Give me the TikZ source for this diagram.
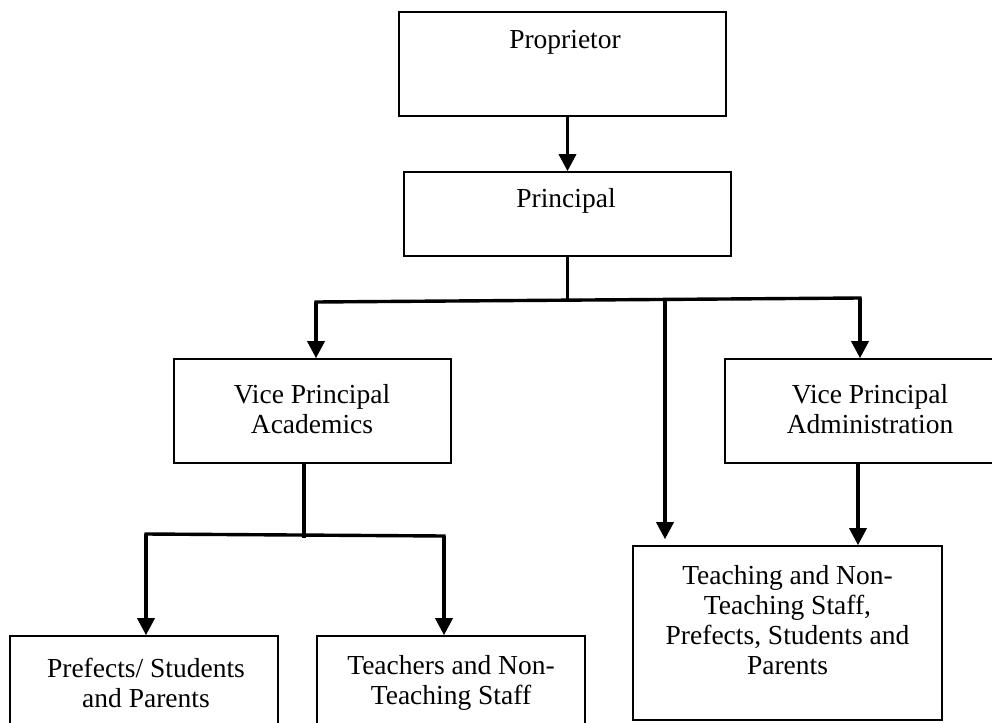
\documentclass[tikz,border=0pt]{standalone}
\usepackage{fontspec}
\setmainfont{Liberation Serif}
\usetikzlibrary{arrows.meta,calc}
\begin{document}
\begin{tikzpicture}[x=1pt,y=-1pt,
  box/.style={draw, line width=1.6pt, inner sep=0pt},
  txt/.style={align=center, inner sep=0pt, font=\fontsize{27.5}{30}\selectfont},
  conn/.style={line width=3.4pt, line cap=rect},
  arr/.style={line width=3.4pt, -{Triangle[length=17pt,width=17pt]}}]
\useasboundingbox (0,0) rectangle (992,722);
\clip (0,0) rectangle (992,722);
% boxes
\node[box, minimum width=327pt, minimum height=104pt] (prop) at (562.5,64) {};
\node[box, minimum width=327pt, minimum height=84pt] (princ) at (567.5,214) {};
\node[box, minimum width=277pt, minimum height=104pt] (vpa) at (312.5,411) {};
\node[box, minimum width=284pt, minimum height=104pt] (vpad) at (867,411) {};
\node[box, minimum width=268pt, minimum height=120pt] (pref) at (144,696) {};
\node[box, minimum width=268pt, minimum height=120pt] (teach) at (451,696) {};
\node[box, minimum width=309pt, minimum height=174pt] (staff) at (787.5,633) {};
% texts
\node[txt] (tprop) at (565,42) {Proprietor};
\node[txt] (tprinc) at (566,201) {Principal};
\node[txt] (tvpa) at (312,409) {Vice Principal\\Academics};
\node[txt] (tvpad) at (870,409) {Vice Principal\\Administration};
\node[txt] (tpref) at (146,683) {Prefects/ Students\\and Parents};
\node[txt] (tteach) at (451,683) {Teachers and Non-\\Teaching Staff};
\node[txt] (tstaff) at (787.5,620) {Teaching and Non-\\Teaching Staff,\\Prefects, Students and\\Parents};
% connectors
\draw[arr] (princ.north |- prop.south) -- (princ.north);
\coordinate (b1L) at (316,302);
\coordinate (b1R) at (860,298);
\coordinate (b1C) at (665,299);
\coordinate (b1P) at (567.5,300);
\draw[conn] (princ.south) -- (b1P);
\draw[conn] (b1L) -- (b1R);
\draw[arr] (b1L) -- (b1L |- vpa.north);
\draw[arr] (b1R) -- (b1R |- vpad.north);
\draw[arr] (b1C) -- ($(b1C |- staff.north)+(0,-6)$);
\coordinate (ra) at (858,0);
\draw[arr] (ra |- vpad.south) -- (ra |- staff.north);
\coordinate (b2M) at (304,536);
\coordinate (b2L) at (146,534);
\coordinate (b2R) at (444,536);
\draw[conn] (b2M |- vpa.south) -- (b2M);
\draw[conn] (b2L) -- (b2R);
\draw[arr] (b2L) -- (b2L |- pref.north);
\draw[arr] (b2R) -- (b2R |- teach.north);
\end{tikzpicture}
\end{document}
